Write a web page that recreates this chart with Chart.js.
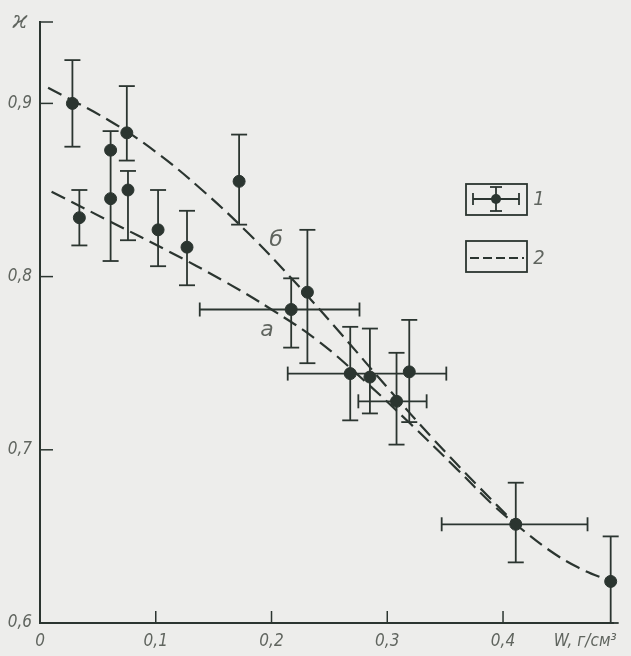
<!DOCTYPE html>
<html>
<head>
<meta charset="utf-8">
<script src="https://cdn.jsdelivr.net/npm/chart.js@4"></script>
<style>
  html, body { margin: 0; padding: 0; background: #ededeb; }
  canvas { display: block; }
</style>
</head>
<body>
<canvas id="chart" width="631" height="656"></canvas>
<script>
// Measured points: W (g/cm3) and kappa, with error ranges (null = no bar)
const pointW     = [0.028, 0.034, 0.061, 0.061, 0.075, 0.076, 0.102, 0.127, 0.172, 0.217, 0.231, 0.268, 0.285, 0.308, 0.319, 0.411, 0.493];
const pointKappa = [0.900, 0.834, 0.873, 0.845, 0.883, 0.850, 0.827, 0.817, 0.855, 0.781, 0.791, 0.744, 0.742, 0.728, 0.745, 0.657, 0.624];
const kappaLow   = [0.875, 0.818, 0.809, null,  0.867, 0.821, 0.806, 0.795, 0.830, 0.759, 0.750, 0.717, 0.721, 0.703, 0.716, 0.635, 0.600];
const kappaHigh  = [0.925, 0.850, 0.884, null,  0.910, 0.861, 0.850, 0.838, 0.882, 0.799, 0.827, 0.771, 0.770, 0.756, 0.775, 0.681, 0.650];
const wLow       = [null, null, null, null, null, null, null, null, null, 0.138, null, 0.214, null, 0.275, null, 0.347, null];
const wHigh      = [null, null, null, null, null, null, null, null, null, 0.276, null, 0.351, null, 0.334, null, 0.473, null];

// Curve "а" (lower, runs to the end) and curve "б" (upper, joins "а" at W = 0.411)
const curveAW     = [0.010, 0.060, 0.110, 0.160, 0.200, 0.240, 0.280, 0.320, 0.360, 0.390, 0.411, 0.440, 0.465, 0.493];
const curveAKappa = [0.849, 0.832, 0.815, 0.797, 0.781, 0.763, 0.740, 0.715, 0.689, 0.669, 0.657, 0.642, 0.632, 0.624];
const curveBW     = [0.007, 0.060, 0.100, 0.140, 0.180, 0.220, 0.260, 0.300, 0.340, 0.380, 0.411];
const curveBKappa = [0.909, 0.890, 0.872, 0.850, 0.825, 0.797, 0.767, 0.736, 0.706, 0.678, 0.657];

// Axis ticks
const xTickValues = [0, 0.1, 0.2, 0.3, 0.4, 0.471];
const xTickLabels = ['0', '0,1', '0,2', '0,3', '0,4', 'W, г/см³'];
const yTickValues = [0.6, 0.7, 0.8, 0.9];
const yTickLabels = ['0,6', '0,7', '0,8', '0,9'];
const xInnerTicks = [0.1, 0.2, 0.3, 0.4];
const yInnerTicks = [0.7, 0.8, 0.9, 0.947];

const INK = '#2b3530';
const TEXT = '#60655f';

function toXY(xs, ys) {
    return xs.map((v, i) => ({ x: v, y: ys[i] }));
}

function line(ctx, x1, y1, x2, y2) {
    ctx.beginPath();
    ctx.moveTo(x1, y1);
    ctx.lineTo(x2, y2);
    ctx.stroke();
}

// error bars drawn under the points
const errorBars = {
    id: 'errorBars',
    beforeDatasetsDraw(chart) {
        const { ctx, scales: { x, y } } = chart;
        ctx.save();
        ctx.strokeStyle = INK;
        ctx.lineWidth = 1.8;
        pointW.forEach((w, i) => {
            const px = x.getPixelForValue(w);
            const py = y.getPixelForValue(pointKappa[i]);
            if (kappaLow[i] !== null) {
                const y1 = y.getPixelForValue(kappaLow[i]);
                const y2 = y.getPixelForValue(kappaHigh[i]);
                line(ctx, px, y1, px, y2);
                line(ctx, px - 8, y1, px + 8, y1);
                line(ctx, px - 8, y2, px + 8, y2);
            }
            if (wLow[i] !== null) {
                const x1 = x.getPixelForValue(wLow[i]);
                const x2 = x.getPixelForValue(wHigh[i]);
                line(ctx, x1, py, x2, py);
                line(ctx, x1, py - 7, x1, py + 7);
                line(ctx, x2, py - 7, x2, py + 7);
            }
        });
        ctx.restore();
    }
};

// inner ticks, axis symbol, curve letters, legend
const decorations = {
    id: 'decorations',
    afterDraw(chart) {
        const { ctx, scales: { x, y } } = chart;
        ctx.save();
        ctx.strokeStyle = INK;
        ctx.lineWidth = 1.5;
        yInnerTicks.forEach(v => {
            const py = y.getPixelForValue(v);
            line(ctx, x.left, py, x.left + 13, py);
        });
        xInnerTicks.forEach(v => {
            const px = x.getPixelForValue(v);
            line(ctx, px, y.bottom, px, y.bottom - 12);
        });

        ctx.fillStyle = TEXT;
        ctx.textAlign = 'center';
        ctx.textBaseline = 'middle';
        ctx.font = "italic 24px 'DejaVu Serif', serif";
        ctx.fillText('ϰ', 20, 22);

        ctx.font = "italic 22px 'DejaVu Sans', sans-serif";
        ctx.fillText('б', x.getPixelForValue(0.204), y.getPixelForValue(0.821));
        ctx.fillText('а', x.getPixelForValue(0.196), y.getPixelForValue(0.769));

        // legend
        ctx.strokeStyle = INK;
        ctx.lineWidth = 1.8;
        ctx.strokeRect(466, 184, 61, 31);
        ctx.strokeRect(466, 241, 61, 31);
        line(ctx, 473, 199, 519, 199);
        line(ctx, 473, 193, 473, 205);
        line(ctx, 519, 193, 519, 205);
        line(ctx, 496, 187, 496, 211);
        line(ctx, 490, 187, 502, 187);
        line(ctx, 490, 211, 502, 211);
        ctx.fillStyle = INK;
        ctx.beginPath();
        ctx.arc(496, 199, 5, 0, Math.PI * 2);
        ctx.fill();
        ctx.setLineDash([9, 4]);
        line(ctx, 470, 258, 524, 258);
        ctx.setLineDash([]);
        ctx.fillStyle = TEXT;
        ctx.font = "italic 20px 'Liberation Sans Narrow', 'DejaVu Sans Condensed', sans-serif";
        ctx.fillText('1', 539, 200);
        ctx.fillText('2', 539, 259);
        ctx.restore();
    }
};

const curveStyle = {
    showLine: true,
    pointRadius: 0,
    borderColor: INK,
    borderWidth: 2.2,
    borderDash: [15, 7],
    tension: 0.4,
    fill: false
};

new Chart(document.getElementById('chart'), {
    type: 'scatter',
    data: {
        datasets: [
            Object.assign({ label: 'а', data: toXY(curveAW, curveAKappa) }, curveStyle),
            Object.assign({ label: 'б', data: toXY(curveBW, curveBKappa) }, curveStyle),
            {
                label: '1',
                data: toXY(pointW, pointKappa),
                pointRadius: 6,
                pointBackgroundColor: INK,
                pointBorderColor: INK,
                showLine: false,
                clip: false
            }
        ]
    },
    options: {
        responsive: false,
        animation: false,
        events: [],
        layout: { padding: { top: 22, right: 18, left: 0, bottom: 0 } },
        plugins: {
            legend: { display: false },
            tooltip: { enabled: false }
        },
        scales: {
            x: {
                type: 'linear',
                min: 0,
                max: 0.495,
                afterBuildTicks(scale) {
                    scale.ticks = xTickValues.map(v => ({ value: v }));
                },
                afterFit(scale) { scale.height = 33; },
                grid: { color: 'rgba(0,0,0,0)', drawTicks: false },
                border: { display: true, color: INK, width: 2 },
                ticks: {
                    autoSkip: false,
                    maxRotation: 0,
                    padding: 8,
                    color: TEXT,
                    font: { family: "'Liberation Sans Narrow', 'DejaVu Sans Condensed', sans-serif", size: 17, style: 'italic' },
                    callback: (v, i) => xTickLabels[i]
                }
            },
            y: {
                type: 'linear',
                min: 0.6,
                max: 0.947,
                afterBuildTicks(scale) {
                    scale.ticks = yTickValues.map(v => ({ value: v }));
                },
                afterFit(scale) { scale.width = 40; },
                grid: { color: 'rgba(0,0,0,0)', drawTicks: false },
                border: { display: true, color: INK, width: 2 },
                ticks: {
                    autoSkip: false,
                    padding: 8,
                    color: TEXT,
                    font: { family: "'Liberation Sans Narrow', 'DejaVu Sans Condensed', sans-serif", size: 17, style: 'italic' },
                    callback: (v, i) => yTickLabels[i]
                }
            }
        }
    },
    plugins: [errorBars, decorations]
});
</script>
</body>
</html>
